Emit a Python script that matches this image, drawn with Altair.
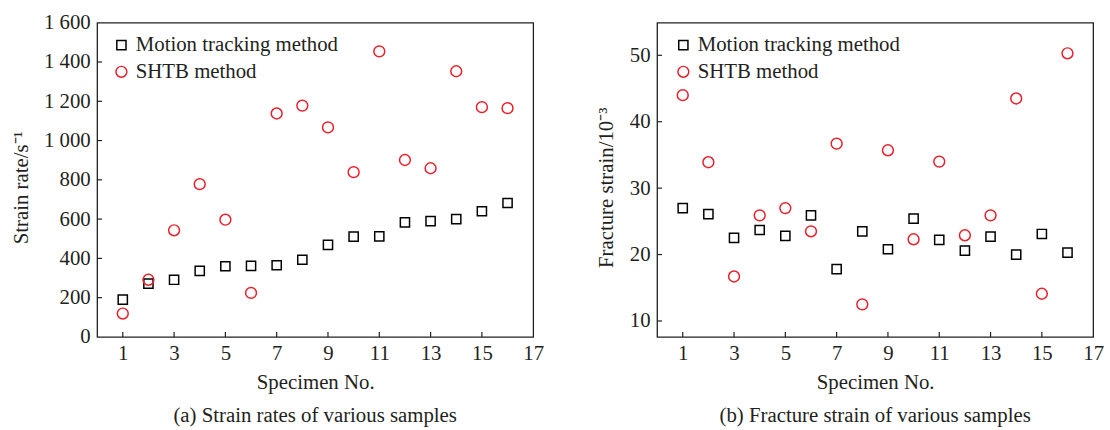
import altair as alt
import pandas as pd

specimens = list(range(1, 17))
methods = ["Motion tracking method", "SHTB method"]
rate_motion = [190, 271, 291, 336, 360, 362, 365, 393, 469, 511, 512, 583, 590, 600, 640, 682]
rate_shtb = [119, 291, 543, 778, 597, 224, 1138, 1178, 1067, 839, 1454, 901, 859, 1353, 1170, 1165]
strain_motion = [27.0, 26.1, 22.5, 23.7, 22.8, 25.9, 17.8, 23.5, 20.8, 25.4, 22.2, 20.6, 22.7, 20.0, 23.1, 20.3]
strain_shtb = [44.0, 33.9, 16.7, 25.9, 27.0, 23.5, 36.7, 12.5, 35.7, 22.3, 34.0, 22.9, 25.9, 43.5, 14.1, 50.3]

x_label_values = [1, 3, 5, 7, 9, 11, 13, 15, 17]
x_tick_values = [1, 3, 5, 7, 9, 11, 13, 15]
rate_label_values = [0, 200, 400, 600, 800, 1000, 1200, 1400, 1600]
rate_tick_values = [200, 400, 600, 800, 1000, 1200, 1400]
strain_label_values = [10, 20, 30, 40, 50]

FONT = "Liberation Serif"
TXT = "#231f20"
RED = "#e8202a"
W, H = 440, 317
TICK = 5


def long_df(a, b):
    return pd.DataFrame({
        "x": specimens * 2,
        "y": a + b,
        "method": [methods[0]] * 16 + [methods[1]] * 16,
    })


def panel(a, b, ydomain, ylabels, yticks, ytitle, caption, ylabelexpr, title_x, title_y, legend_x):
    x_axis = alt.Axis(values=x_label_values, title="Specimen No.", ticks=False, tickSize=0,
                      domain=False, grid=False, labelPadding=6, titlePadding=8,
                      labelFlush=False)
    y_kw = dict(values=ylabels, title=ytitle, ticks=False, tickSize=0, domain=False, grid=False,
                labelPadding=7, titleX=title_x, titleY=title_y)
    if ylabelexpr:
        y_kw["labelExpr"] = ylabelexpr
    y_axis = alt.Axis(**y_kw)
    xs = alt.Scale(domain=[0, 17], nice=False, zero=False)
    ys = alt.Scale(domain=ydomain, nice=False, zero=False)

    leg = alt.Legend(title=None, orient="none", legendX=legend_x, legendY=12, labelLimit=0)
    pts = alt.Chart(long_df(a, b)).mark_point(filled=False, strokeWidth=1.5, opacity=1).encode(
        x=alt.X("x:Q", scale=xs, axis=x_axis),
        y=alt.Y("y:Q", scale=ys, axis=y_axis),
        color=alt.Color("method:N", scale=alt.Scale(domain=methods, range=["#000000", RED]),
                        legend=leg),
        shape=alt.Shape("method:N", scale=alt.Scale(domain=methods, range=["square", "circle"]),
                        legend=leg),
        size=alt.Size("method:N", scale=alt.Scale(domain=methods, range=[86, 120]), legend=None),
    )
    xt = alt.Chart(pd.DataFrame({"x": x_tick_values})).mark_rule(color=TXT, strokeWidth=1.2).encode(
        x=alt.X("x:Q", scale=xs, axis=x_axis),
        y=alt.value(H),
        y2=alt.value(H - TICK),
    )
    yt = alt.Chart(pd.DataFrame({"y": yticks})).mark_rule(color=TXT, strokeWidth=1.2).encode(
        y=alt.Y("y:Q", scale=ys, axis=y_axis),
        x=alt.value(0),
        x2=alt.value(TICK),
    )
    return alt.layer(xt, yt, pts).properties(
        width=W, height=H,
        title=alt.TitleParams(caption, orient="bottom", anchor="middle", offset=13,
                              font=FONT, fontSize=21, fontWeight="normal", color=TXT),
    )


left = panel(rate_motion, rate_shtb, [0, 1600], rate_label_values, rate_tick_values,
             "Strain rate/s\u207b\u00b9", "(a) Strain rates of various samples",
             "replace(format(datum.value, ','), ',', ' ')", -66, 166, 14)
right = panel(strain_motion, strain_shtb, [7.6, 54.9], strain_label_values, strain_label_values,
              "Fracture strain/10\u207b\u00b3", "(b) Fracture strain of various samples",
              None, -41, 166, 16)

chart = alt.hconcat(left, right, spacing=50).resolve_scale(
    color="independent", shape="independent", size="independent"
).resolve_legend(color="independent", shape="independent").properties(
    padding={"left": 10, "top": 9, "right": 5, "bottom": 5},
    background="white",
).configure_view(
    stroke=TXT, strokeWidth=1.3
).configure_axis(
    labelFont=FONT, labelFontSize=21, labelColor=TXT,
    titleFont=FONT, titleFontSize=21, titleColor=TXT, titleFontWeight="normal",
).configure_legend(
    labelFont=FONT, labelFontSize=21, labelColor=TXT, symbolStrokeWidth=1.5,
    symbolSize=100, rowPadding=5, labelOffset=4, padding=0, labelLimit=0,
)

chart.save("out.html", embed_options={"renderer": "svg", "actions": False})
